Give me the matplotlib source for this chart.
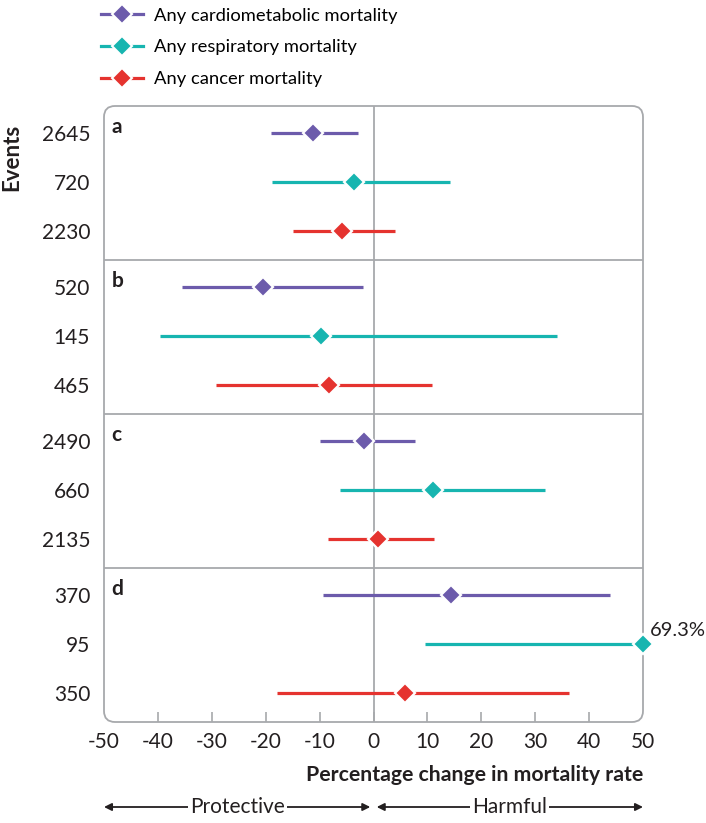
import numpy as np
import matplotlib
matplotlib.use("Agg")
import matplotlib.pyplot as plt
from matplotlib.lines import Line2D
from matplotlib.patches import FancyBboxPatch
import matplotlib.transforms as mtransforms

# -----------------------------
# DATA (percentage change, 95% CI)
# -----------------------------
panels = ["a", "b", "c", "d"]
series = ["Any cardiometabolic mortality", "Any respiratory mortality", "Any cancer mortality"]
colors = ["#6C5BAB", "#17B5B0", "#E5332F"]

cardio_mid = [-11.3, -20.5, -1.7, 14.3]
cardio_lo = [-19.0, -35.5, -10.0, -9.3]
cardio_hi = [-2.9, -2.0, 7.7, 43.8]

resp_mid = [-3.6, -9.8, 11.0, 69.3]
resp_lo = [-18.8, -39.6, -6.3, 9.5]
resp_hi = [14.2, 34.0, 31.9, 50.0]   # last one runs off the scale

cancer_mid = [-5.8, -8.2, 0.8, 5.8]
cancer_lo = [-14.9, -29.3, -8.5, -17.9]
cancer_hi = [4.0, 10.8, 11.3, 36.2]

events = [[2645, 720, 2230],
          [520, 145, 465],
          [2490, 660, 2135],
          [370, 95, 350]]

xticks = [-50, -40, -30, -20, -10, 0, 10, 20, 30, 40, 50]

mids = [cardio_mid, resp_mid, cancer_mid]
los = [cardio_lo, resp_lo, cancer_lo]
his = [cardio_hi, resp_hi, cancer_hi]

# -----------------------------
# LAYOUT
# -----------------------------
W, H = 706, 823
fig = plt.figure(figsize=(W / 100, H / 100), dpi=100)
ax_l, ax_r, ax_t, ax_b = 104, 643, 106, 722
ax = fig.add_axes([ax_l / W, 1 - ax_b / H, (ax_r - ax_l) / W, (ax_b - ax_t) / H])

grey = "#A7A9AC"
txt = "#231F20"
sans = ["Lato", "DejaVu Sans"]

PH = 3.15          # panel height in row units
OFF = 0.55         # first row offset inside a panel
XMAX = 50

ax.set_xlim(-50, 50)
ax.set_ylim(4 * PH, 0)
for s in ax.spines.values():
    s.set_visible(False)

# rounded frame
aspect = (ax_r - ax_l) / (ax_b - ax_t)
r = 11 / (ax_r - ax_l)
frame = FancyBboxPatch((0, 0), 1, 1, boxstyle=f"round,pad=0,rounding_size={r}",
                       mutation_aspect=aspect, transform=ax.transAxes,
                       fill=False, edgecolor=grey, lw=1.3, clip_on=False, zorder=1)
ax.add_patch(frame)

# panel dividers + zero line
for p in range(1, 4):
    ax.axhline(p * PH, color=grey, lw=1.3, zorder=1)
ax.axvline(0, color=grey, lw=1.3, zorder=1)

# -----------------------------
# ROWS
# -----------------------------
ypos, ylabels = [], []
for p, name in enumerate(panels):
    ax.text(-48.6, p * PH + 0.43, name, fontsize=15, fontweight="bold",
            family=sans, color=txt, va="center", ha="left")
    for k in range(3):
        y = p * PH + OFF + k
        ypos.append(y)
        ylabels.append(str(events[p][k]))
        m = mids[k][p]
        mx = min(m, XMAX)
        ax.plot([los[k][p], min(his[k][p], XMAX)], [y, y], color=colors[k],
                lw=2.3, solid_capstyle="butt", zorder=3)
        ax.plot([mx], [y], marker="D", ms=10.5, color=colors[k], mec="white",
                mew=1.6, zorder=4, clip_on=False)
        if m > XMAX:
            ax.text(mx + 1.2, y - 0.27, f"{m}%", fontsize=14.5, family=sans,
                    color=txt, ha="left", va="center")

ax.set_yticks(ypos)
ax.set_yticklabels(ylabels, family=sans, fontsize=15, color=txt)
ax.tick_params(axis="y", length=0, pad=10)

ax.set_xticks(xticks)
ax.set_xticklabels([str(t) for t in xticks], family=sans, fontsize=15, color=txt)
ax.tick_params(axis="x", direction="in", length=7, color=grey, width=1.2, pad=7)
ticks = ax.xaxis.get_major_ticks()
ticks[0].tick1line.set_visible(False)
ticks[-1].tick1line.set_visible(False)

ax.set_ylabel("Events", fontsize=16, fontweight="bold", family=sans, color=txt)
ax.yaxis.set_label_coords(-82 / (ax_r - ax_l), 1 - 51 / (ax_b - ax_t))

fig.text(ax_r / W, 1 - 775 / H, "Percentage change in mortality rate", ha="right",
         va="center", fontsize=15.3, fontweight="bold", family=sans, color=txt)

# protective / harmful arrows
bt = mtransforms.blended_transform_factory(ax.transData, fig.transFigure)
ya = 1 - 807 / H
for x0, x1, label in [(-50, -0.6, "Protective"), (0.6, 50, "Harmful")]:
    ax.annotate("", xy=(x0, ya), xytext=(x1, ya), xycoords=bt, textcoords=bt,
                arrowprops=dict(arrowstyle="<|-|>", color=txt, lw=1.3,
                                mutation_scale=11, shrinkA=0, shrinkB=0),
                annotation_clip=False)
    ax.text((x0 + x1) / 2, ya, label, transform=bt, ha="center", va="center",
            fontsize=15, family=sans, color=txt,
            bbox=dict(facecolor="white", edgecolor="none", pad=1.5))

# legend
handles = [Line2D([], [], color=c, lw=2.3, marker="D", ms=10, mec="white", mew=1.5)
           for c in colors]
fig.legend(handles, series, loc="upper left", bbox_to_anchor=(88 / W, 1 + 5 / H),
           frameon=False, handlelength=2.3, handletextpad=0.6,
           labelspacing=0.85, borderpad=0.2, prop={"family": sans, "size": 13.2})

fig.savefig("out.png", dpi=100)
